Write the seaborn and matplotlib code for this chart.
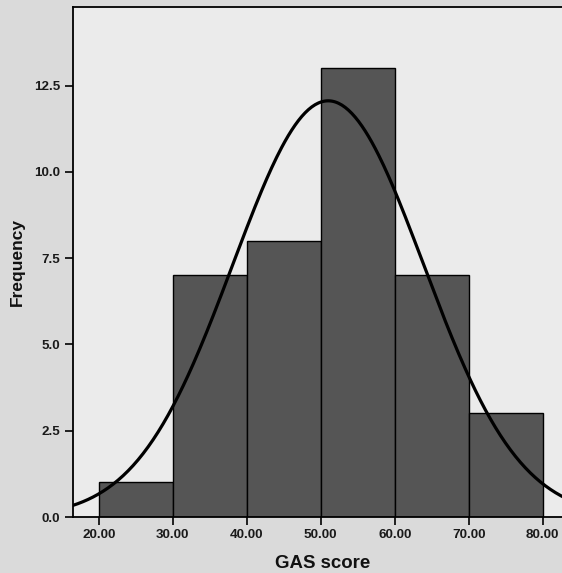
import numpy as np
import pandas as pd
import matplotlib
matplotlib.use("Agg")
import matplotlib.pyplot as plt
import seaborn as sns

# Data
bin_edges = [20, 30, 40, 50, 60, 70, 80]
bin_centers = [25, 35, 45, 55, 65, 75]
counts = [1, 7, 8, 13, 7, 3]
fit_mean = 51.0
fit_sd = 12.9
x_ticks = [20, 30, 40, 50, 60, 70, 80]
x_tick_labels = ["20.00", "30.00", "40.00", "50.00", "60.00", "70.00", "80.00"]
y_ticks = [0.0, 2.5, 5.0, 7.5, 10.0, 12.5]
y_tick_labels = ["0.0", "2.5", "5.0", "7.5", "10.0", "12.5"]

sns.set_theme(style="white")
plt.rcParams['font.family'] = ['Liberation Sans', 'DejaVu Sans']

fig = plt.figure(figsize=(5.62, 5.73), dpi=100, facecolor="#dadada")
ax = fig.add_axes([73/562, 56/573, 500/562, 510/573])
ax.set_facecolor("#ebebeb")

df = pd.DataFrame({"score": bin_centers, "n": counts})
sns.histplot(data=df, x="score", weights="n", bins=bin_edges, ax=ax,
             color="#555555", edgecolor="black", linewidth=1.0, alpha=1)

n_total = sum(counts)
bw = bin_edges[1] - bin_edges[0]
xs = np.linspace(16.5, 84, 300)
ys = n_total * bw * np.exp(-0.5 * ((xs - fit_mean) / fit_sd) ** 2) / (fit_sd * np.sqrt(2 * np.pi))
sns.lineplot(x=xs, y=ys, ax=ax, color="black", linewidth=2.3)

ax.set_xlim(16.5, 84.1)
ax.set_ylim(0, 14.78)
ax.set_xticks(x_ticks)
ax.set_xticklabels(x_tick_labels, fontsize=9.7, fontweight="bold", color="#1a1a1a")
ax.set_yticks(y_ticks)
ax.set_yticklabels(y_tick_labels, fontsize=9.6, fontweight="bold", color="#1a1a1a")
ax.tick_params(axis="both", direction="out", length=6, width=1.2, color="black",
               bottom=True, left=True, pad=3)
ax.set_xlabel("GAS score", fontsize=13.4, fontweight="bold", labelpad=10, color="#111111")
ax.set_ylabel("Frequency", fontsize=12.5, fontweight="bold", labelpad=7, color="#111111")
for s in ax.spines.values():
    s.set_color("black")
    s.set_linewidth(1.3)

fig.savefig("out.png", dpi=100, facecolor=fig.get_facecolor())
